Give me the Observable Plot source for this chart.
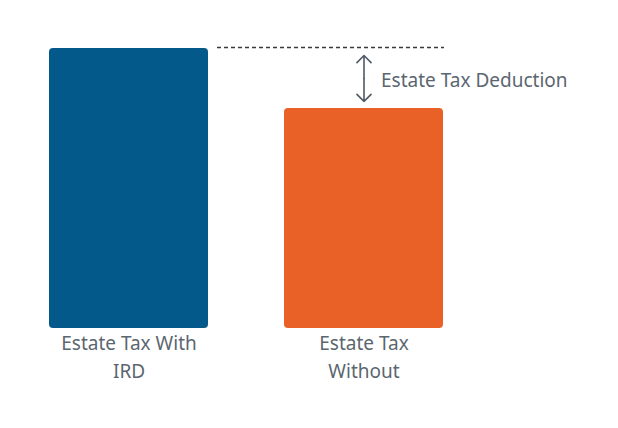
<!DOCTYPE html>
<html>
<head>
<meta charset="utf-8">
<script src="https://cdn.jsdelivr.net/npm/d3@7"></script>
<script src="https://cdn.jsdelivr.net/npm/@observablehq/plot@0.6"></script>
<style>
  html, body { margin: 0; padding: 0; background: #fff; }
  #chart svg { display: block; }
</style>
</head>
<body>
<div id="chart"></div>
<script>
const categories = ["Estate Tax With IRD", "Estate Tax Without"];
const values = [100, 78.6];
const labels = ["Estate Tax With\nIRD", "Estate Tax\nWithout"];
const colors = ["#03598a", "#ea6128"];
const annotation = "Estate Tax Deduction";

const data = categories.map((c, i) => ({category: c, value: values[i], label: labels[i], color: colors[i]}));
const hiVal = values[0], loVal = values[1], midVal = (hiVal + loVal) / 2;

const textColor = "#5b6670";
const arrowColor = "#505b66";
const font = "Noto Sans";

const chart = Plot.plot({
  width: 618,
  height: 428,
  marginLeft: 48,
  marginRight: 174,
  marginTop: 48,
  marginBottom: 100,
  style: {fontFamily: font, background: "#fff"},
  x: {domain: categories, paddingInner: 0.322, paddingOuter: 0, axis: null},
  y: {domain: [0, 100], axis: null},
  color: {type: "identity"},
  marks: [
    Plot.barY(data, {x: "category", y: "value", fill: "color", rx: 4}),
    Plot.ruleY([hiVal], {insetLeft: 169, dy: -1, stroke: "#3a3a3a", strokeWidth: 1.4, strokeDasharray: "4,3"}),
    Plot.arrow([{a: midVal, b: hiVal}, {a: midVal, b: loVal}], {
      x1: () => categories[1], x2: () => categories[1], y1: "a", y2: "b",
      stroke: arrowColor, strokeWidth: 1.6, insetEnd: 7, headAngle: 90, headLength: 10, bend: false
    }),
    Plot.text([annotation], {x: () => categories[1], y: () => midVal, text: d => d, dx: 17, dy: 2, textAnchor: "start", fontSize: 19, fill: textColor}),
    Plot.text(data, {x: "category", y: () => 0, text: "label", lineAnchor: "top", dy: 2, lineHeight: 1.47, fontSize: 19, fill: textColor})
  ]
});
document.getElementById("chart").appendChild(chart);
</script>
</body>
</html>
